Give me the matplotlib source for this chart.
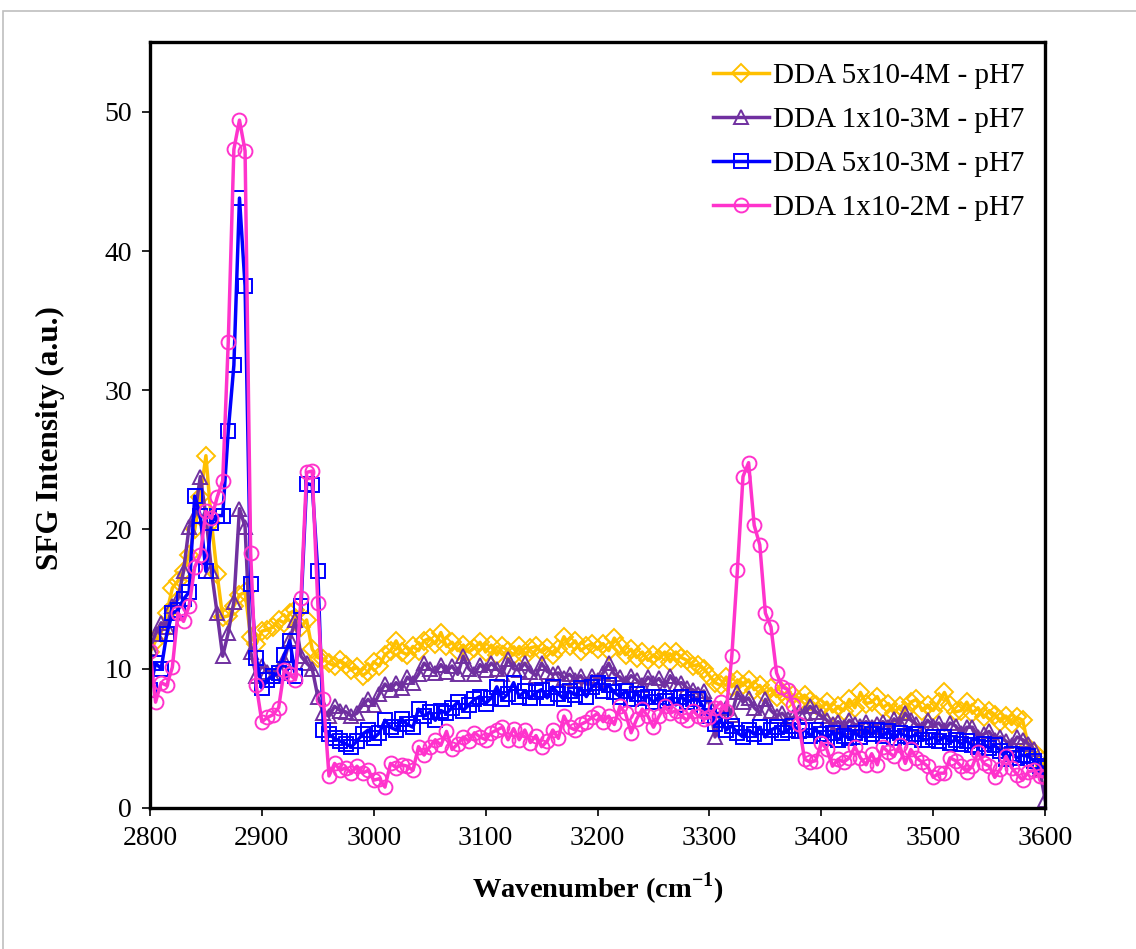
import numpy as np
import matplotlib
matplotlib.use("Agg")
import matplotlib.pyplot as plt
from matplotlib.patches import Rectangle

plt.rcParams["font.family"] = ["Liberation Serif", "DejaVu Serif"]
plt.rcParams["mathtext.fontset"] = "custom"
plt.rcParams["mathtext.rm"] = "Liberation Serif"
plt.rcParams["mathtext.bf"] = "Liberation Serif:bold"

# wavenumber grid, 5 cm-1 steps
wn = np.arange(2800, 3605, 5)

dda_5e4 = [
    11.2, 12.0, 12.6, 14.0, 15.8, 16.3, 17.0, 18.2, 20.0, 22.3,
    25.3, 20.5, 16.8, 13.7, 13.8, 14.5, 15.3, 15.5, 12.3, 11.8,
    12.7, 12.8, 13.0, 13.5, 13.3, 14.0, 14.2, 13.0, 13.5, 11.4,
    10.8, 10.7, 10.4, 10.2, 10.6, 10.3, 9.9, 10.1, 9.5, 9.8,
    10.5, 10.2, 11.0, 11.3, 12.0, 11.2, 11.0, 11.6, 11.3, 12.0,
    12.2, 11.8, 12.6, 11.6, 11.9, 11.3, 11.7, 11.2, 11.5, 11.9,
    11.2, 11.7, 11.0, 11.6, 11.3, 11.0, 11.6, 10.9, 11.5, 11.6,
    11.2, 11.5, 11.0, 11.4, 12.3, 11.6, 12.0, 11.3, 11.6, 11.8,
    11.4, 11.8, 11.3, 12.2, 11.6, 11.0, 11.4, 10.8, 11.2, 10.6,
    11.0, 10.7, 11.2, 10.5, 11.2, 10.8, 10.6, 10.2, 10.3, 10.0,
    9.5, 9.0, 8.8, 9.4, 8.7, 9.2, 8.8, 9.2, 8.5, 8.8,
    8.2, 8.6, 8.0, 8.3, 7.8, 8.1, 7.6, 8.1, 7.7, 7.4,
    7.2, 7.6, 6.9, 7.3, 7.0, 7.8, 7.2, 8.3, 7.5, 7.6,
    8.0, 7.2, 7.5, 6.8, 7.3, 7.0, 7.6, 7.8, 7.0, 7.4,
    7.0, 7.6, 8.3, 7.4, 6.9, 7.0, 7.6, 6.8, 7.2, 6.5,
    7.0, 6.7, 6.2, 6.6, 6.0, 6.5, 6.3, 4.4, 4.0, 3.6,
    3.0,
]
dda_1e3 = [
    11.5, 12.5, 13.3, 13.0, 14.5, 15.0, 17.0, 20.2, 21.0, 23.8,
    21.0, 17.0, 14.0, 10.9, 12.6, 14.8, 21.5, 20.2, 11.2, 9.5,
    10.2, 9.8, 9.5, 10.0, 10.6, 12.1, 13.5, 10.9, 10.4, 10.0,
    8.0, 6.8, 6.6, 7.3, 7.0, 6.9, 6.6, 6.8, 7.4, 7.8,
    7.4, 8.2, 8.9, 8.5, 9.0, 8.6, 9.4, 9.0, 9.6, 10.4,
    10.0, 9.7, 10.3, 9.8, 10.2, 9.6, 10.9, 10.0, 9.6, 10.3,
    9.9, 10.4, 10.0, 9.6, 10.7, 10.0, 9.9, 10.4, 9.8, 9.5,
    10.4, 9.8, 9.6, 9.7, 9.3, 9.6, 9.2, 9.5, 8.9, 9.5,
    9.2, 9.7, 10.4, 9.6, 9.4, 9.0, 9.5, 9.2, 8.8, 9.4,
    9.0, 9.3, 8.7, 9.5, 8.9, 9.0, 8.6, 8.5, 8.2, 8.4,
    7.5, 5.1, 6.6, 7.2, 6.7, 8.3, 7.6, 7.9, 7.2, 6.8,
    7.8, 7.0, 6.6, 6.8, 6.4, 6.5, 6.9, 6.8, 7.3, 6.9,
    6.6, 6.3, 6.0, 6.2, 5.8, 6.3, 6.0, 5.9, 6.2, 5.8,
    6.0, 6.2, 5.8, 6.4, 6.0, 6.8, 6.3, 6.0, 5.7, 6.3,
    5.9, 6.1, 5.6, 6.1, 5.9, 5.4, 5.8, 5.8, 5.1, 5.3,
    5.5, 4.9, 5.1, 4.8, 4.5, 5.1, 4.9, 4.6, 4.2, 2.8,
    0.6,
]
dda_5e3 = [
    8.5, 10.4, 10.0, 12.5, 14.0, 14.2, 15.0, 15.5, 22.4, 21.0,
    17.0, 20.5, 21.0, 21.0, 27.1, 31.8, 43.8, 37.5, 16.1, 10.8,
    8.6, 9.2, 9.5, 9.7, 11.0, 12.0, 9.5, 14.5, 23.3, 23.2,
    17.0, 5.6, 5.3, 5.0, 4.8, 4.6, 4.4, 4.8, 5.3, 5.6,
    5.0, 5.4, 6.3, 5.8, 5.6, 6.4, 6.0, 5.8, 7.1, 6.6,
    6.9, 6.3, 7.0, 6.8, 7.2, 7.6, 7.0, 7.4, 7.8, 8.0,
    7.5, 7.9, 8.7, 7.8, 8.2, 9.0, 8.0, 8.4, 7.9, 8.3,
    8.5, 7.9, 8.7, 8.2, 7.8, 8.4, 8.1, 8.6, 8.0, 8.7,
    9.0, 8.4, 8.8, 8.3, 8.0, 8.4, 7.8, 8.2, 7.9, 8.0,
    7.6, 8.0, 7.7, 7.9, 7.4, 8.0, 7.6, 7.8, 7.8, 7.2,
    6.6, 6.0, 6.3, 5.6, 5.9, 5.4, 5.1, 5.6, 5.3, 5.8,
    5.1, 5.6, 5.8, 5.4, 5.6, 5.9, 5.5, 5.6, 5.2, 5.6,
    5.3, 5.0, 5.4, 4.9, 5.2, 5.0, 5.4, 5.1, 5.6, 5.3,
    5.6, 5.2, 5.5, 5.0, 5.4, 5.2, 5.1, 5.3, 4.9, 4.9,
    5.1, 4.8, 5.1, 4.7, 4.9, 4.6, 4.8, 4.5, 4.4, 4.6,
    4.3, 4.5, 4.1, 3.5, 3.9, 3.6, 3.8, 3.7, 3.4, 3.0,
    2.9,
]
dda_1e2 = [
    11.3, 7.6, 9.0, 8.8, 10.1, 14.0, 13.4, 14.5, 17.3, 18.2,
    21.3, 20.8, 22.3, 23.5, 33.5, 47.3, 49.4, 47.2, 18.3, 8.8,
    6.2, 6.5, 6.7, 7.2, 9.9, 9.6, 9.2, 15.1, 24.1, 24.2,
    14.7, 7.8, 2.3, 3.2, 2.7, 2.9, 2.5, 3.0, 2.5, 2.7,
    2.0, 2.1, 1.5, 3.2, 2.9, 3.1, 3.0, 2.7, 4.4, 3.8,
    4.4, 4.9, 4.5, 5.5, 4.2, 4.6, 5.1, 4.8, 5.4, 5.1,
    4.9, 5.4, 5.6, 5.8, 4.9, 5.7, 4.9, 5.6, 4.7, 5.2,
    4.4, 4.8, 5.6, 5.0, 6.6, 5.8, 5.6, 6.0, 6.2, 6.5,
    6.8, 6.2, 6.6, 6.0, 7.3, 6.8, 5.4, 6.4, 7.1, 6.6,
    5.8, 6.6, 7.3, 6.8, 7.0, 6.6, 6.3, 7.0, 6.6, 6.4,
    6.5, 7.2, 7.6, 7.0, 10.9, 17.1, 23.8, 24.8, 20.3, 18.9,
    14.0, 13.0, 9.7, 8.7, 8.5, 7.4, 6.0, 3.5, 3.3, 3.4,
    4.7, 4.2, 3.0, 3.5, 3.3, 3.6, 4.4, 3.6, 3.1, 3.9,
    3.1, 4.4, 4.0, 3.7, 4.5, 3.2, 4.2, 3.6, 3.3, 3.0,
    2.2, 2.5, 2.5, 3.6, 3.4, 3.0, 2.6, 3.0, 4.0, 3.2,
    3.0, 2.2, 2.8, 3.7, 2.9, 2.4, 2.0, 2.6, 2.7, 2.3,
    2.2,
]

series = [
    (dda_5e4, "DDA 5x10-4M - pH7", "#FFC000", "D", 9.0),
    (dda_1e3, "DDA 1x10-3M - pH7", "#7030A0", "^", 10.0),
    (dda_5e3, "DDA 5x10-3M - pH7", "#0000FF", "s", 9.5),
    (dda_1e2, "DDA 1x10-2M - pH7", "#FF33CC", "o", 10.0),
]

fig = plt.figure(figsize=(11.36, 9.49), dpi=100)
ax = fig.add_axes([0.132, 0.1486, 0.788, 0.807])

for vals, label, col, mk, ms in series:
    ax.plot(wn, vals, color=col, lw=2.5, marker=mk, ms=ms,
            mfc="none", mec=col, mew=1.4, label=label)

ax.set_xlim(2800, 3600)
ax.set_ylim(0, 55)
ax.set_xticks(np.arange(2800, 3700, 100))
ax.set_yticks(np.arange(0, 60, 10))
ax.tick_params(direction="out", length=6, width=1.2, labelsize=20, pad=7)
for sp in ax.spines.values():
    sp.set_linewidth(2.4)

ax.set_xlabel(r"Wavenumber (cm$^{\mathbf{-1}}$)", fontsize=20.5, fontweight="bold", labelpad=14)
ax.set_ylabel("SFG Intensity (a.u.)", fontsize=22.5, fontweight="bold")
ax.yaxis.set_label_coords(-0.095, 0.483)

ax.legend(loc="upper right", frameon=False, fontsize=21, handlelength=1.9,
          handletextpad=0.15, labelspacing=0.6, borderpad=0.2, borderaxespad=0.5)

# light grey chart-area outline (top and left edges visible)
fig.patches.append(Rectangle((3 / 1136, -0.2), 2, 1.2 - 11 / 949, transform=fig.transFigure,
                             fill=False, edgecolor="#BFBFBF", lw=1.2))

fig.savefig("out.png", dpi=100)
